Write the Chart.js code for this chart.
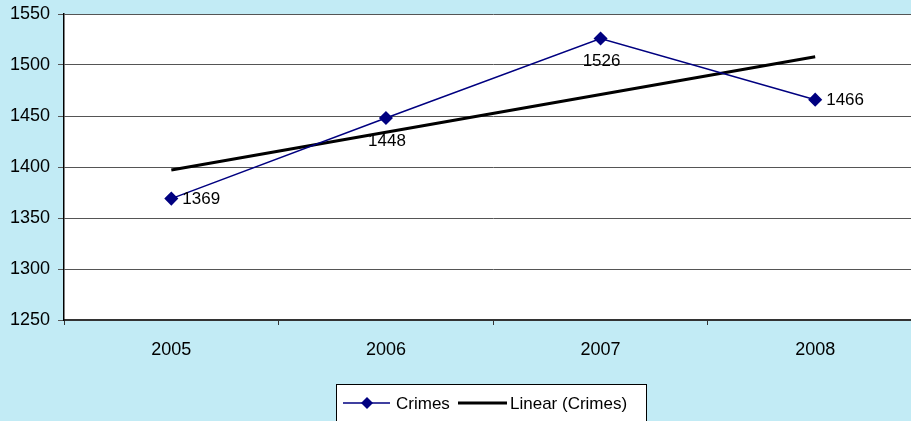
<!DOCTYPE html>
<html>
<head>
<meta charset="utf-8">
<script src="https://cdn.jsdelivr.net/npm/chart.js@4/dist/chart.umd.min.js"></script>
<style>
  html, body { margin: 0; padding: 0; overflow: hidden; background: #c2ebf5; }
  #wrap { width: 930px; height: 421px; }
  #crimesChart { display: block; width: 930px; height: 421px; }
</style>
</head>
<body>
<div id="wrap"><canvas id="crimesChart" width="930" height="421"></canvas></div>
<script>
const years = ['2005', '2006', '2007', '2008'];
const crimes = [1369, 1448, 1526, 1466];
const trend = [1397, 1434, 1471, 1508];
const yTicks = [1250, 1300, 1350, 1400, 1450, 1500, 1550];
// where each value label sits relative to its point
const labelSide = ['right', 'below', 'below', 'right'];

const FONT = 'Liberation Sans, Arial, sans-serif';

// white plot area
const plotBg = {
  id: 'plotBg',
  beforeDraw(chart) {
    const { ctx, chartArea: a } = chart;
    ctx.save();
    ctx.fillStyle = '#ffffff';
    ctx.fillRect(a.left, a.top, a.right - a.left, a.bottom - a.top);
    ctx.restore();
  }
};

// value labels next to the crime points
const valueLabels = {
  id: 'valueLabels',
  afterDatasetsDraw(chart) {
    const { ctx } = chart;
    const meta = chart.getDatasetMeta(0);
    ctx.save();
    ctx.font = '17px ' + FONT;
    ctx.fillStyle = '#000';
    meta.data.forEach((pt, i) => {
      const txt = String(crimes[i]);
      ctx.textBaseline = 'middle';
      if (labelSide[i] === 'right') {
        ctx.textAlign = 'left';
        ctx.fillText(txt, pt.x + 11, pt.y + 1);
      } else {
        ctx.textAlign = 'center';
        ctx.fillText(txt, pt.x + 1, pt.y + 23);
      }
    });
    ctx.restore();
  }
};

// excel style legend box below the chart
const boxLegend = {
  id: 'boxLegend',
  afterDraw(chart) {
    const { ctx } = chart;
    const x0 = 336, y0 = 384, w = 310, h = 45;
    const cy = 403;
    ctx.save();
    ctx.fillStyle = '#fff';
    ctx.fillRect(x0, y0, w, h);
    ctx.strokeStyle = '#000';
    ctx.lineWidth = 1;
    ctx.strokeRect(x0 + 0.5, y0 + 0.5, w, h);

    ctx.strokeStyle = '#000080';
    ctx.lineWidth = 1.5;
    ctx.beginPath();
    ctx.moveTo(343, cy); ctx.lineTo(390, cy);
    ctx.stroke();
    ctx.fillStyle = '#000080';
    ctx.beginPath();
    ctx.moveTo(367, cy - 6); ctx.lineTo(373, cy); ctx.lineTo(367, cy + 6); ctx.lineTo(361, cy);
    ctx.closePath();
    ctx.fill();

    ctx.strokeStyle = '#000';
    ctx.lineWidth = 3;
    ctx.beginPath();
    ctx.moveTo(458, cy); ctx.lineTo(507, cy);
    ctx.stroke();

    ctx.fillStyle = '#000';
    ctx.font = '17px ' + FONT;
    ctx.textAlign = 'left';
    ctx.textBaseline = 'middle';
    ctx.fillText('Crimes', 396, cy + 1);
    ctx.fillText('Linear (Crimes)', 510, cy + 1);
    ctx.restore();
  }
};

new Chart(document.getElementById('crimesChart'), {
  type: 'line',
  data: {
    labels: years,
    datasets: [{
      label: 'Crimes',
      data: crimes,
      borderColor: '#000080',
      backgroundColor: '#000080',
      borderWidth: 1.5,
      pointStyle: 'rectRot',
      pointRadius: 6,
      pointHoverRadius: 6,
      tension: 0,
      order: 1
    }, {
      label: 'Linear (Crimes)',
      data: trend,
      borderColor: '#000000',
      borderWidth: 3,
      pointRadius: 0,
      tension: 0,
      order: 2
    }]
  },
  options: {
    responsive: false,
    animation: false,
    devicePixelRatio: 1,
    layout: { padding: { top: 14, right: 0, bottom: 0, left: 0 } },
    plugins: {
      legend: { display: false },
      tooltip: { enabled: false }
    },
    scales: {
      x: {
        offset: true,
        grid: {
          offset: true,
          drawOnChartArea: false,
          drawTicks: true,
          tickLength: 5,
          color: '#333'
        },
        border: { color: '#333', width: 2 },
        ticks: {
          color: '#000',
          font: { family: FONT, size: 18 },
          padding: 14,
          maxRotation: 0
        },
        afterFit: s => {
          s.height = 101;
          s.paddingLeft = 0;
          s.paddingRight = 0;
        }
      },
      y: {
        min: 1250,
        max: 1550,
        afterBuildTicks: s => { s.ticks = yTicks.map(v => ({ value: v })); },
        grid: {
          color: '#555',
          drawTicks: true,
          tickLength: 6
        },
        border: { color: '#000', width: 1.5 },
        ticks: {
          color: '#000',
          font: { family: FONT, size: 18 },
          padding: 8,
          callback: v => String(v)
        },
        afterFit: s => {
          s.width = 64;
          s.paddingTop = 0;
          s.paddingBottom = 0;
        }
      }
    }
  },
  plugins: [plotBg, valueLabels, boxLegend]
});
</script>
</body>
</html>
